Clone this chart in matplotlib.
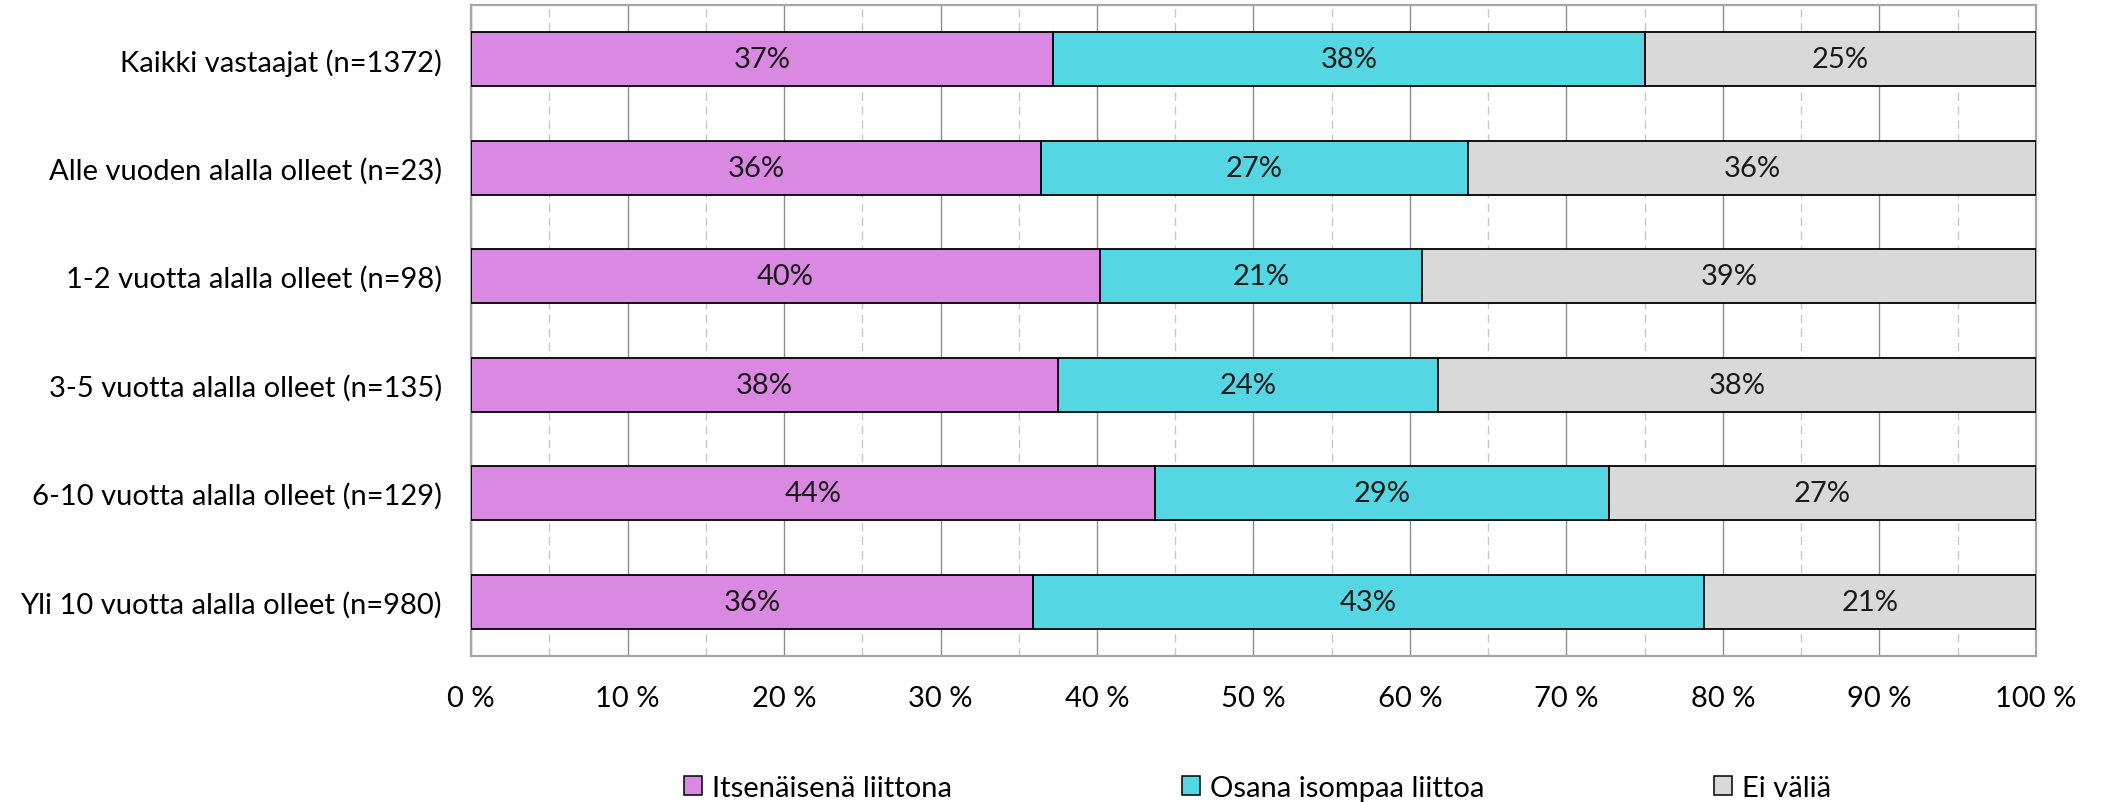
import matplotlib.pyplot as plt
from matplotlib.patches import Patch
from matplotlib.ticker import MultipleLocator, FuncFormatter

plt.rcParams["font.family"] = ["Lato", "DejaVu Sans"]

GROUPS = [
    "Kaikki vastaajat (n=1372)",
    "Alle vuoden alalla olleet (n=23)",
    "1-2 vuotta alalla olleet (n=98)",
    "3-5 vuotta alalla olleet (n=135)",
    "6-10 vuotta alalla olleet (n=129)",
    "Yli 10 vuotta alalla olleet (n=980)",
]
SERIES = ["Itsenäisenä liittona", "Osana isompaa liittoa", "Ei väliä"]
ITSENAINEN = [37.2, 36.4, 40.2, 37.5, 43.7, 35.9]
OSANA = [37.8, 27.3, 20.6, 24.3, 29.0, 42.9]
EI_VALIA = [25.0, 36.3, 39.2, 38.2, 27.3, 21.2]
COLORS = ["#da89e2", "#55d6e3", "#d9d9d9"]

FS = 21

fig = plt.figure(figsize=(21.03, 8.03), dpi=100)
ax = fig.add_axes([0.2240, 0.1818, 0.7441, 0.8107])

ypos = list(range(len(GROUPS)))
left = [0.0] * len(GROUPS)
for name, vals, col in zip(SERIES, [ITSENAINEN, OSANA, EI_VALIA], COLORS):
    bars = ax.barh(ypos, vals, left=left, height=0.5, color=col,
                   edgecolor="black", linewidth=1.3, label=name, zorder=3)
    ax.bar_label(bars, labels=[f"{v:.0f}%" for v in vals], label_type="center",
                 fontsize=FS, color="#1a1a1a", zorder=4)
    left = [a + b for a, b in zip(left, vals)]

ax.set_xlim(0, 100)
ax.set_ylim(len(GROUPS) - 0.5, -0.5)
ax.set_yticks(ypos)
ax.set_yticklabels(GROUPS, fontsize=FS)
ax.xaxis.set_major_locator(MultipleLocator(10))
ax.xaxis.set_minor_locator(MultipleLocator(5))
ax.xaxis.set_major_formatter(FuncFormatter(lambda v, _: f"{v:.0f} %"))
ax.tick_params(axis="x", which="both", length=0, labelsize=FS, pad=21)
ax.tick_params(axis="y", length=0, pad=21)

ax.grid(axis="x", which="major", color="#8e8e8e", linewidth=1.0, zorder=0)
ax.grid(axis="x", which="minor", color="#c8c8c8", linewidth=1.0,
        linestyle=(0, (6, 4)), zorder=0)
ax.set_axisbelow(True)
for side in ["top", "bottom", "left", "right"]:
    ax.spines[side].set_color("#a6a6a6")
    ax.spines[side].set_linewidth(1.6)

handles = [Patch(facecolor=c, edgecolor="black", linewidth=1.1) for c in COLORS]
fig.legend(handles, SERIES, loc="center", bbox_to_anchor=(0.598, 0.0174),
           ncol=3, frameon=False, fontsize=FS, handlelength=0.6,
           handleheight=0.62, handletextpad=0.34, columnspacing=7.9)

fig.savefig("out.png", dpi=100, facecolor="white")
